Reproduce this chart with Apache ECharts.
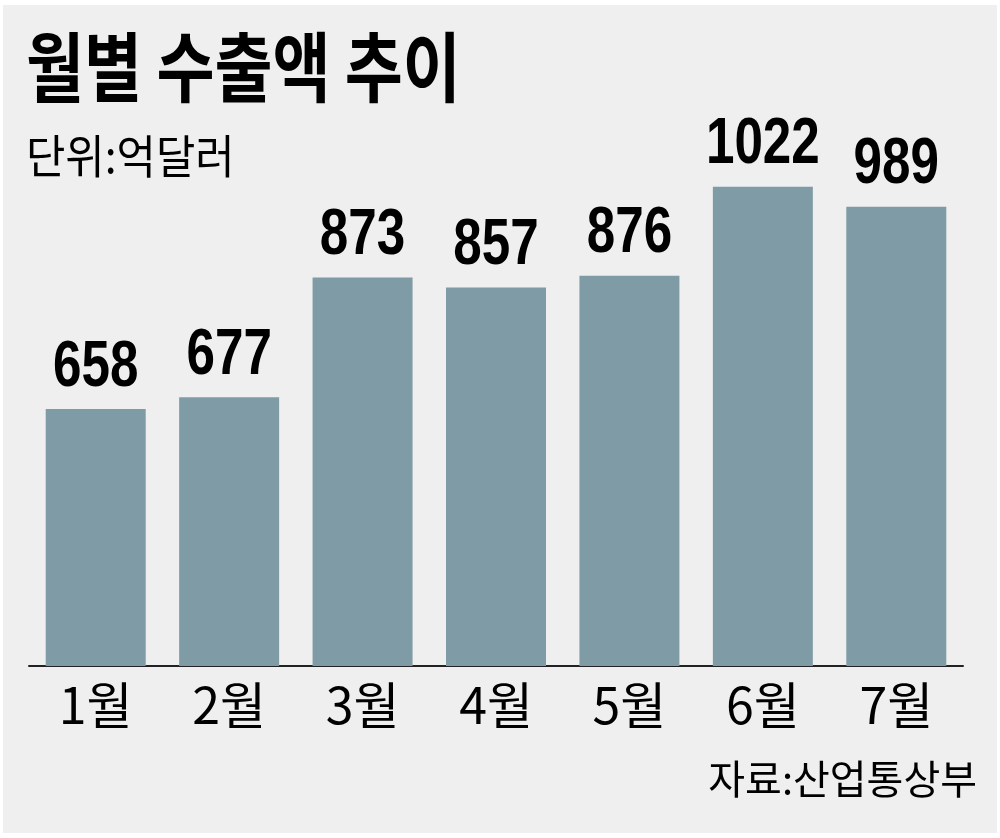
<!DOCTYPE html>
<html>
<head>
<meta charset="utf-8">
<script src="https://cdn.jsdelivr.net/npm/echarts@6/dist/echarts.min.js"></script>
<style>
  html, body { margin: 0; padding: 0; background: #fff; }
  #main { width: 1000px; height: 838px; }
</style>
</head>
<body>
<div id="main"></div>
<script>
// 데이터
var months = ['1월', '2월', '3월', '4월', '5월', '6월', '7월'];
var exportValues = [658, 677, 873, 857, 876, 1022, 989];

var titleText = '월별 수출액 추이';
var unitText = '단위:억달러';
var sourceText = '자료:산업통상부';

var myChart = echarts.init(document.getElementById('main'));

// 값 라벨은 좁은 글꼴처럼 보이도록 custom 시리즈로 가로 축소
var labelData = exportValues.map(function (v, i) { return [i, v]; });

var option = {
  backgroundColor: '#fff',
  animation: false,
  graphic: [
    {
      type: 'rect',
      z: -10,
      silent: true,
      shape: { x: 3, y: 5, width: 994, height: 828 },
      style: { fill: '#efefef' }
    },
    {
      type: 'text',
      x: 26, y: 29,
      scaleX: 0.83,
      style: {
        text: titleText,
        font: 'bold 76px "Noto Sans CJK KR"',
        fill: '#000',
        verticalAlign: 'top'
      }
    },
    {
      type: 'text',
      x: 26, y: 133,
      scaleX: 0.93,
      style: {
        text: unitText,
        font: '46px "Noto Sans CJK KR"',
        fill: '#000',
        verticalAlign: 'top'
      }
    },
    {
      type: 'text',
      x: 977, y: 759,
      style: {
        text: sourceText,
        font: '40px "Noto Sans CJK KR"',
        fill: '#000',
        align: 'right',
        verticalAlign: 'top'
      }
    }
  ],
  grid: {
    left: 29,
    right: 37,
    top: 139,
    bottom: 172,
    containLabel: false
  },
  xAxis: {
    type: 'category',
    data: months,
    axisLine: { lineStyle: { color: '#222', width: 2 } },
    axisTick: { show: false },
    axisLabel: {
      margin: 14,
      color: '#000',
      fontSize: 50,
      fontFamily: '"Noto Sans CJK KR"'
    }
  },
  yAxis: {
    type: 'value',
    min: 237,
    max: 1100,
    show: false,
    splitLine: { show: false }
  },
  series: [
    {
      name: '수출액',
      type: 'bar',
      data: exportValues,
      barWidth: 100,
      itemStyle: { color: '#7f9ca6' }
    },
    {
      name: '라벨',
      type: 'custom',
      data: labelData,
      z: 5,
      silent: true,
      renderItem: function (params, api) {
        var p = api.coord([api.value(0), api.value(1)]);
        return {
          type: 'text',
          x: p[0],
          y: p[1] - 9,
          scaleX: 0.8,
          style: {
            text: String(api.value(1)),
            font: 'bold 64px "Liberation Sans"',
            fill: '#000',
            align: 'center',
            verticalAlign: 'bottom'
          }
        };
      }
    }
  ]
};

myChart.setOption(option);
</script>
</body>
</html>
